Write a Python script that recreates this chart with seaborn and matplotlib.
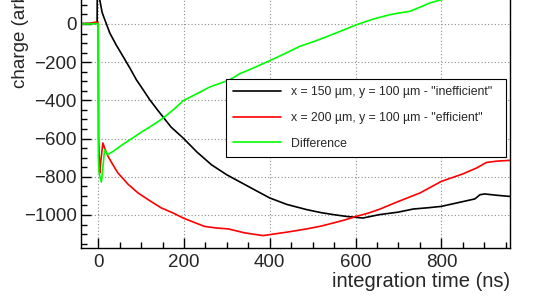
import matplotlib
matplotlib.use("Agg")
import matplotlib.pyplot as plt
from matplotlib.ticker import MultipleLocator
import seaborn as sns

# integration time (ns) / charge (arb. units)
t_ineff = [-40, -20, -5, -2.5, -2, 0.5, 3.7, 9, 11, 15, 27, 42, 58, 75, 89, 105, 120,
           140, 170, 198, 230, 264, 300, 342, 370, 400, 440, 486, 520, 548, 580, 617,
           656, 700, 734, 770, 800, 840, 878, 890, 901, 930, 960]
q_ineff = [3, 3, 3, 3, 240, 250, 127, 62, 49, 25, -47, -110, -170, -235, -292, -345, -396,
           -455, -540, -597, -670, -737, -790, -841, -875, -911, -945, -972, -988, -998, -1008, -1016,
           -998, -985, -969, -962, -955, -935, -916, -894, -890, -897, -903]

t_eff = [-40, -20, -10, -4, -1, 0, 1, 3.7, 6, 11, 15, 23, 35, 46, 70, 93, 120, 147, 175,
         198, 225, 248, 275, 303, 342, 384, 400, 440, 486, 520, 548, 575, 602, 630, 656,
         700, 750, 800, 850, 882, 905, 930, 960]
q_eff = [0, 2, 8, 10, 8, 4, -600, -780, -720, -623, -650, -693, -740, -780, -840, -885, -925, -963, -990,
         -1016, -1040, -1060, -1068, -1073, -1094, -1108, -1103, -1090, -1073, -1058, -1042, -1026, -1007, -990, -970,
         -929, -885, -824, -785, -754, -725, -718, -714]

t_diff = [-40, -20, -5, -1, 0, 0.5, 2, 7.5, 15, 22, 35, 50, 70, 85, 100, 120, 150, 175, 198,
          230, 260, 307, 330, 353, 400, 435, 470, 505, 540, 570, 602, 640, 680, 700, 726,
          750, 773, 800, 850, 900, 960]
q_diff = [0, 0, 2, 2, 0, -700, -780, -828, -658, -684, -667, -642, -612, -590, -567, -540, -495, -449, -402,
          -365, -330, -292, -260, -239, -192, -155, -117, -90, -60, -33, -4, 25, 49, 57, 66,
          88, 110, 127, 150, 170, 190]

labels = ['x = 150 µm, y = 100 µm - "inefficient"',
          'x = 200 µm, y = 100 µm - "efficient"',
          'Difference']
y_ticks = [-1000, -800, -600, -400, -200, 0]

sns.set_theme(style="white")
plt.rcParams['font.family'] = ['Liberation Sans', 'DejaVu Sans']

fig = plt.figure(figsize=(5.38, 3.03), dpi=100)
ax = fig.add_axes([0.1506, 0.1815, 0.7974, 0.9284])

sns.lineplot(x=t_ineff, y=q_ineff, color='black', lw=1.2, label=labels[0],
             sort=False, estimator=None, ax=ax)
sns.lineplot(x=t_eff, y=q_eff, color='#ff0000', lw=1.2, label=labels[1],
             sort=False, estimator=None, ax=ax)
sns.lineplot(x=t_diff, y=q_diff, color='#00ff00', lw=1.2, label=labels[2],
             sort=False, estimator=None, ax=ax)

ax.set_xlim(-40, 960)
ax.set_ylim(-1173, 300)
ax.xaxis.set_major_locator(MultipleLocator(200))
ax.xaxis.set_minor_locator(MultipleLocator(50))
ax.set_yticks(y_ticks)
ax.yaxis.set_minor_locator(MultipleLocator(50))
ax.tick_params(which='both', direction='in', top=False, right=False, left=True,
               bottom=True, labelsize=13.5, color='black', width=1)
ax.tick_params(which='major', length=7)
ax.tick_params(which='minor', length=4)
ax.tick_params(axis='x', pad=4)
ax.tick_params(axis='y', pad=3)
ax.grid(True, which='major', color='#8c8c8c', linestyle=(0, (1, 2)), linewidth=0.8)
for s in ax.spines.values():
    s.set_color('black')
    s.set_linewidth(1.0)

ax.set_xlabel('integration time (ns)', loc='right', fontsize=14.5, labelpad=1)
ax.set_ylabel('')
fig.text(21 / 538, 1 - 88 / 303, 'charge (arb. units)', rotation=90,
         ha='center', va='bottom', fontsize=13.5)

leg = ax.legend(loc='lower left', bbox_to_anchor=(0.338, 0.3235, 0.653, 0.2595),
                mode='expand', borderaxespad=0, fontsize=8.8, handlelength=3.9,
                handletextpad=0.82, labelspacing=1.12, borderpad=0.6,
                fancybox=False, framealpha=1, edgecolor='black')
leg.get_frame().set_linewidth(0.8)

fig.savefig('out.png', dpi=100)
